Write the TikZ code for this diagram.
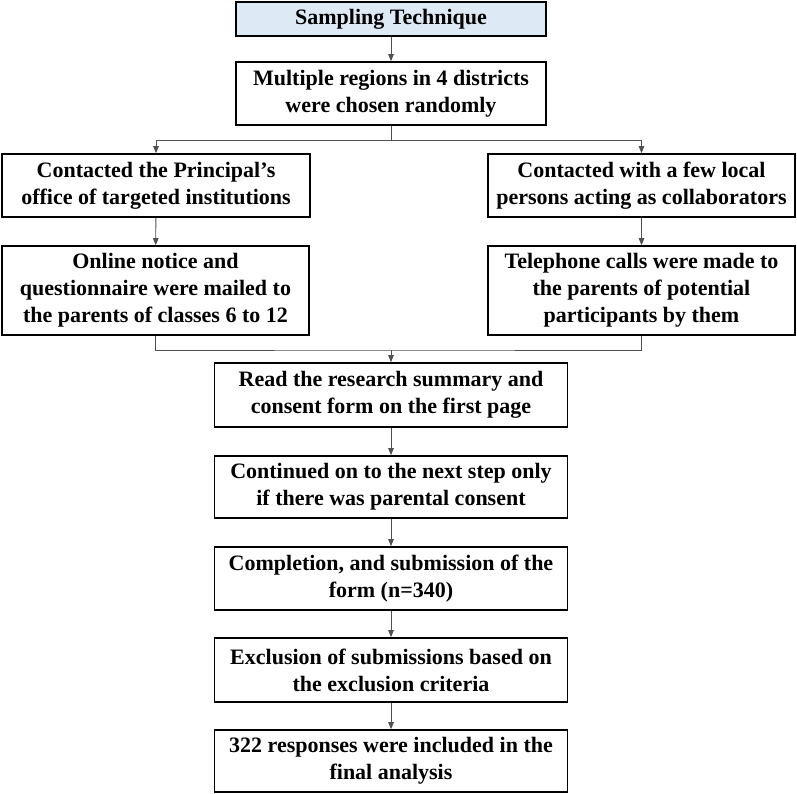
\documentclass[tikz,border=0pt]{standalone}
\usepackage{fontspec}
\setmainfont{Liberation Serif}
\usetikzlibrary{arrows.meta}
\definecolor{topfill}{HTML}{DEE9F6}
\definecolor{linkcol}{HTML}{505050}
\tikzset{
  box/.style={draw=black, line width=1.6pt, rectangle, align=center, inner sep=0pt,
    font=\fontsize{22}{27}\selectfont\bfseries},
  link/.style={draw=linkcol, line width=0.9pt},
  arr/.style={link, -{Triangle[length=7pt,width=5.5pt]}}
}
\begin{document}
\begin{tikzpicture}[x=1pt,y=-1pt]
\useasboundingbox (0,0) rectangle (797,794);
\node[box, fill=topfill, minimum width=310pt, minimum height=34pt] (top) at (391,19) {Sampling Technique};
\node[box, minimum width=310pt, minimum height=63pt] (reg) at (391,93.5) {Multiple regions in 4 districts\\were chosen randomly};
\node[box, minimum width=308pt, minimum height=63pt] (l1) at (156,185.5) {Contacted the Principal’s\\office of targeted institutions};
\node[box, minimum width=307pt, minimum height=63pt] (r1) at (641.5,185.5) {Contacted with a few local\\persons acting as collaborators};
\node[box, minimum width=307pt, minimum height=89pt] (l2) at (155.5,290.5) {Online notice and\\questionnaire were mailed to\\the parents of classes 6 to 12};
\node[box, minimum width=307pt, minimum height=89pt] (r2) at (641.5,290.5) {Telephone calls were made to\\the parents of potential\\participants by them};
\node[box, minimum width=353pt, minimum height=64pt] (b5) at (391,395) {Read the research summary and\\consent form on the first page};
\node[box, minimum width=353pt, minimum height=62pt] (b6) at (391,487) {Continued on to the next step only\\if there was parental consent};
\node[box, minimum width=353pt, minimum height=63pt] (b7) at (391,578.5) {Completion, and submission of the\\form (n=340)};
\node[box, minimum width=353pt, minimum height=64pt] (b8) at (391,670) {Exclusion of submissions based on\\the exclusion criteria};
\node[box, minimum width=353pt, minimum height=62pt] (b9) at (391,761) {322 responses were included in the\\final analysis};

\coordinate (split) at (391,140);
\coordinate (merge) at (391,350);

\draw[arr] (top) -- (reg);
\draw[link] (reg) -- (split);
\draw[arr] (split) -| (l1.north);
\draw[arr] (split) -| (r1.north);
\draw[arr] (l1) -- (l2);
\draw[arr] (r1) -- (r2);
\draw[link] (l2.south) |- (merge) -| (r2.south);
\draw[arr] (merge) -- (b5);
\draw[arr] (b5) -- (b6);
\draw[arr] (b6) -- (b7);
\draw[arr] (b7) -- (b8);
\draw[arr] (b8) -- (b9);
\end{tikzpicture}
\end{document}
